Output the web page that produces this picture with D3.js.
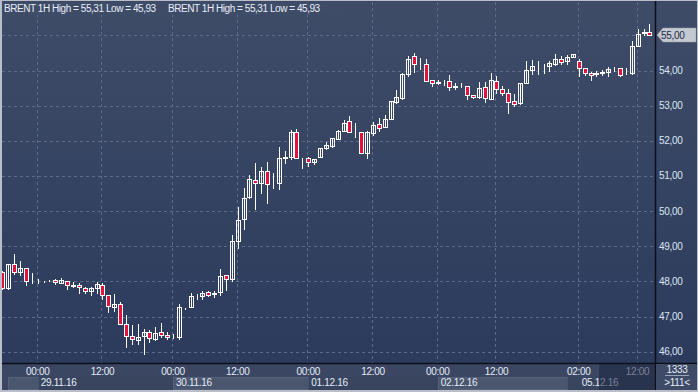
<!DOCTYPE html>
<html><head><meta charset="utf-8">
<script src="https://cdn.jsdelivr.net/npm/d3@7"></script>
<style>
html,body{margin:0;padding:0;background:#3a4764;overflow:hidden}
svg{display:block}
text{font-family:"Liberation Sans",Arial,sans-serif}
</style>
</head><body>
<svg id="c" width="698" height="392"></svg>
<script>
// ---- data (hourly candles, BRENT 1H) ----
const opens  = [48.26,47.80,48.50,48.26,48.37,48.00,48.00,48.00,48.03,48.03,47.96,48.00,47.89,47.89,47.80,47.72,47.82,47.90,47.60,47.28,
                47.35,46.80,46.46,46.34,46.44,46.55,46.37,46.55,46.47,46.42,46.43,47.23,47.28,47.56,47.59,47.69,47.65,47.69,48.17,48.06,
                49.15,49.77,50.39,50.88,50.81,51.13,50.76,50.79,51.50,51.53,52.24,51.50,51.50,51.39,51.53,51.79,51.86,52.04,52.29,52.55,
                52.24,52.24,51.64,52.21,52.47,52.38,52.62,53.11,53.21,53.89,54.41,54.18,54.18,53.73,53.65,53.66,53.70,53.54,53.56,53.56,
                53.30,53.26,53.53,53.20,53.69,53.47,53.35,53.13,53.07,53.64,54.02,54.13,54.12,54.13,54.18,54.32,54.26,54.37,54.28,54.07,
                53.92,53.91,53.93,53.95,54.03,54.06,53.90,53.92,54.71,55.06,55.09];
const highs  = [48.30,48.50,48.78,48.58,48.37,48.25,48.08,48.02,48.04,48.08,48.09,48.00,47.98,47.96,47.83,47.83,47.97,47.95,47.60,47.64,
                47.41,47.04,46.76,46.79,46.64,46.61,46.69,46.83,46.56,46.51,47.35,47.24,47.66,47.64,47.73,47.73,47.73,48.34,48.17,49.32,
                50.11,50.65,51.03,51.38,51.26,51.41,51.08,51.82,51.71,52.31,52.34,51.52,51.55,51.47,51.80,51.96,52.07,52.30,52.59,52.70,
                52.50,52.24,52.29,52.53,52.64,52.73,53.14,53.44,53.92,54.40,54.51,54.35,54.33,53.73,53.74,53.73,53.87,53.64,53.64,53.56,
                53.30,53.67,53.68,53.94,53.84,53.56,53.47,53.33,53.65,54.27,54.30,54.26,54.19,54.27,54.47,54.40,54.45,54.47,54.32,54.07,
                53.95,53.98,54.01,54.11,54.10,54.08,54.07,54.84,55.17,55.17,55.31];
const lows   = [47.78,47.78,48.20,48.19,47.91,47.95,47.96,47.99,48.02,47.92,47.96,47.79,47.85,47.68,47.66,47.62,47.68,47.51,47.14,47.17,
                46.78,46.13,46.23,46.22,45.93,46.28,46.33,46.43,46.36,46.40,46.37,47.22,47.27,47.50,47.49,47.59,47.56,47.61,47.76,48.00,
                48.96,49.50,50.37,50.07,50.52,50.24,50.67,50.64,51.38,51.47,51.50,51.24,51.28,51.33,51.53,51.78,51.81,52.04,52.29,52.24,
                52.12,51.64,51.50,52.17,52.28,52.38,52.62,53.07,53.20,53.84,53.97,54.04,53.70,53.57,53.61,53.60,53.44,53.47,53.53,53.20,
                53.21,53.21,53.11,53.20,53.35,53.30,52.80,52.99,53.05,53.64,53.89,53.91,53.94,54.00,54.16,54.18,54.18,54.37,53.84,53.87,
                53.73,53.84,53.88,53.83,53.98,53.84,53.90,53.91,54.70,55.00,55.00];
const closes = [47.80,48.49,48.26,48.37,48.00,48.01,48.02,48.00,48.03,47.98,48.03,47.89,47.88,47.83,47.72,47.80,47.93,47.60,47.29,47.35,
                46.78,46.46,46.37,46.41,46.55,46.40,46.52,46.48,46.41,46.43,47.26,47.23,47.58,47.56,47.67,47.60,47.67,48.15,48.06,49.15,
                49.75,50.37,50.90,50.79,51.13,50.76,50.78,51.50,51.53,52.24,51.50,51.51,51.39,51.47,51.79,51.88,52.07,52.27,52.50,52.24,
                52.25,51.64,52.24,52.44,52.36,52.62,53.14,53.24,53.89,54.33,54.18,54.19,53.71,53.64,53.66,53.67,53.52,53.55,53.57,53.30,
                53.24,53.49,53.21,53.72,53.47,53.36,53.11,53.04,53.64,54.02,54.13,54.14,54.13,54.20,54.32,54.24,54.37,54.47,54.07,53.92,
                53.86,53.92,53.95,54.03,54.04,53.86,53.91,54.71,55.03,55.09,55.00];

const timeTickIdx    = [6, 17, 29, 40, 52, 63, 74, 84, 98, 108];
const timeTickLabels = ["00:00","12:00","00:00","12:00","00:00","12:00","00:00","12:00","02:00","12:00"];
const dayStartIdx    = [1, 6, 29, 52, 74, 96];
const dayLabelIdx    = [null, 6, 29, 52, 74, 98];
const dayLabels      = ["28.11.16","29.11.16","30.11.16","01.12.16","02.12.16","05.12.16"];
const priceTicks     = [46, 47, 48, 49, 50, 51, 52, 53, 54, 55];
const legendText     = "BRENT 1H High = 55,31 Low = 45,93";
const lastPrice      = 55.00;
const cornerTop      = "1333";
const cornerBottom   = ">111<";

// ---- layout ----
const W = 698, H = 392;
const L = 2, R = 655, T = 2, B = 363;
const svg = d3.select("#c");
const fmt = v => d3.format(".2f")(v).replace(".", ",");

const x = d3.scaleLinear().domain([0, 110]).range([2.4, 649.4]);
const y = d3.scaleLinear().domain([46, 55]).range([351.7, 35.35]);
const px = v => Math.round(v) + 0.5;

const defs = svg.append("defs");
const g1 = defs.append("linearGradient").attr("id","bg").attr("x1",0).attr("y1",0).attr("x2",0).attr("y2",1);
g1.append("stop").attr("offset","0%").attr("stop-color","#3e4c68");
g1.append("stop").attr("offset","100%").attr("stop-color","#2c3b5c");
defs.append("clipPath").attr("id","clip").append("rect").attr("x",L).attr("y",T).attr("width",R-L).attr("height",B-T);

// backgrounds
svg.append("rect").attr("x",0).attr("y",0).attr("width",W).attr("height",H).attr("fill","#3b4865");
svg.append("rect").attr("x",L).attr("y",T).attr("width",W-L).attr("height",B-T).attr("fill","url(#bg)");

// axis band (time row + date row)
svg.append("rect").attr("x",L).attr("y",B).attr("width",R-L).attr("height",H-B).attr("fill","#3b4762");
const dayEnd = i => i+1 < dayStartIdx.length ? x(dayStartIdx[i+1]) : R;
dayStartIdx.forEach((d,i) => {
  const x0 = Math.round(x(d)), x1 = Math.round(dayEnd(i));
  svg.append("rect").attr("x",x0+0.5).attr("y",377.5).attr("width",x1-x0).attr("height",12)
    .attr("fill", i%2===0 ? "#4a556e" : "#39455f")
    .attr("stroke", i%2===0 ? "#56617a" : "none");
});

// grid
const grid = svg.append("g").attr("clip-path","url(#clip)");
grid.selectAll("line.h").data(priceTicks).join("line")
  .attr("x1",L).attr("x2",R).attr("y1",d=>px(y(d))).attr("y2",d=>px(y(d)))
  .attr("stroke","#5c6b89").attr("stroke-dasharray","3,3");
grid.selectAll("line.v").data(timeTickIdx).join("line")
  .attr("x1",d=>px(x(d))-1).attr("x2",d=>px(x(d))-1).attr("y1",T).attr("y2",B)
  .attr("stroke","#5c6b89").attr("stroke-dasharray","3,3");

// legend background + text
svg.append("rect").attr("x",L).attr("y",T).attr("width",335).attr("height",13).attr("fill","#3e4c68");
[4, 168].forEach(lx => {
  svg.append("text").attr("x",lx).attr("y",12).attr("fill","#e8eef8")
    .attr("font-size","10px").attr("letter-spacing","-0.45px").text(legendText);
});

// candles
const data = opens.map((o,i)=>({i, o, h:highs[i], l:lows[i], c:closes[i]}));
const cg = svg.append("g").attr("clip-path","url(#clip)").attr("shape-rendering","crispEdges");
const cand = cg.selectAll("g.c").data(data).join("g");
cand.append("line")
  .attr("x1",d=>px(x(d.i))).attr("x2",d=>px(x(d.i)))
  .attr("y1",d=>Math.round(y(d.h))).attr("y2",d=>Math.round(y(d.l))+1)
  .attr("stroke","#ffffff");
cand.append("rect")
  .attr("x",d=>Math.round(x(d.i))-2+0.5)
  .attr("width",4)
  .attr("y",d=>px(y(Math.max(d.o,d.c))))
  .attr("height",d=>Math.max(0, Math.round(y(Math.min(d.o,d.c))) - Math.round(y(Math.max(d.o,d.c)))))
  .attr("fill",d=>d.c < d.o ? "#e3123d" : "none")
  .attr("stroke","#ffffff");

// axis frame lines
svg.append("line").attr("x1",R+0.5).attr("x2",R+0.5).attr("y1",0).attr("y2",H).attr("stroke","#0c0f18").attr("stroke-width",1.5);
svg.append("line").attr("x1",0).attr("x2",W).attr("y1",B+0.5).attr("y2",B+0.5).attr("stroke","#0c0f18").attr("stroke-width",1.5);

// right price axis labels (the tick under the last-price marker is covered by it)
svg.selectAll("text.p").data(priceTicks.filter(d => Math.abs(d - lastPrice) > 0.3)).join("text")
  .attr("x",659).attr("y",d=>y(d)).attr("dy","0.35em")
  .attr("fill","#dce6f4").attr("font-size","10px").attr("letter-spacing","-0.3px")
  .text(d=>fmt(d));

// last price marker
const ly = Math.round(y(lastPrice));
svg.append("path")
  .attr("d",`M657,${ly} L663,${ly-7} L696,${ly-7} L696,${ly+7} L663,${ly+7} Z`)
  .attr("fill","#c4c8d0").attr("stroke","#9aa0ab").attr("stroke-width",0.5);
svg.append("text").attr("x",661).attr("y",ly).attr("dy","0.35em")
  .attr("fill","#1c2a48").attr("font-size","10px").attr("letter-spacing","-0.3px").text(fmt(lastPrice));

// time labels
svg.selectAll("text.t").data(timeTickIdx).join("text")
  .attr("x",d=>x(d)).attr("y",375).attr("text-anchor","middle")
  .attr("fill","#e4ecf8").attr("font-size","10px").attr("letter-spacing","-0.3px")
  .text((d,i)=>timeTickLabels[i]);

// date labels
dayLabels.forEach((lab,i)=>{
  if (dayLabelIdx[i] === null) return;
  svg.append("text").attr("x",x(dayLabelIdx[i])+3).attr("y",386)
    .attr("fill","#e4ecf8").attr("font-size","10px").attr("letter-spacing","-0.3px").text(lab);
});

// dark overlay at right of time axis
svg.append("rect").attr("x",599).attr("y",B+1).attr("width",R-599).attr("height",H-B-3)
  .attr("fill","#1c2540").attr("opacity",0.55);

// corner box
svg.append("rect").attr("x",R+1).attr("y",B+1).attr("width",W-R-3).attr("height",H-B-3).attr("fill","#3e4a66");
svg.append("text").attr("x",677).attr("y",373).attr("text-anchor","middle").attr("fill","#e4ecf8")
  .attr("font-size","10px").attr("letter-spacing","-0.3px").text(cornerTop);
svg.append("line").attr("x1",665).attr("x2",689).attr("y1",375.5).attr("y2",375.5).attr("stroke","#9aa4b8");
svg.append("text").attr("x",677).attr("y",386).attr("text-anchor","middle").attr("fill","#e4ecf8")
  .attr("font-size","10px").attr("letter-spacing","-0.3px").text(cornerBottom);

// outer frame
svg.append("rect").attr("x",0.5).attr("y",0.5).attr("width",W-1).attr("height",H-1)
  .attr("fill","none").attr("stroke","#b9bec8");
svg.append("line").attr("x1",1.5).attr("x2",1.5).attr("y1",0).attr("y2",H).attr("stroke","#b9bec8");
svg.append("line").attr("x1",0).attr("x2",W).attr("y1",H-1.5).attr("y2",H-1.5).attr("stroke","#b9bec8");
</script>
</body></html>
